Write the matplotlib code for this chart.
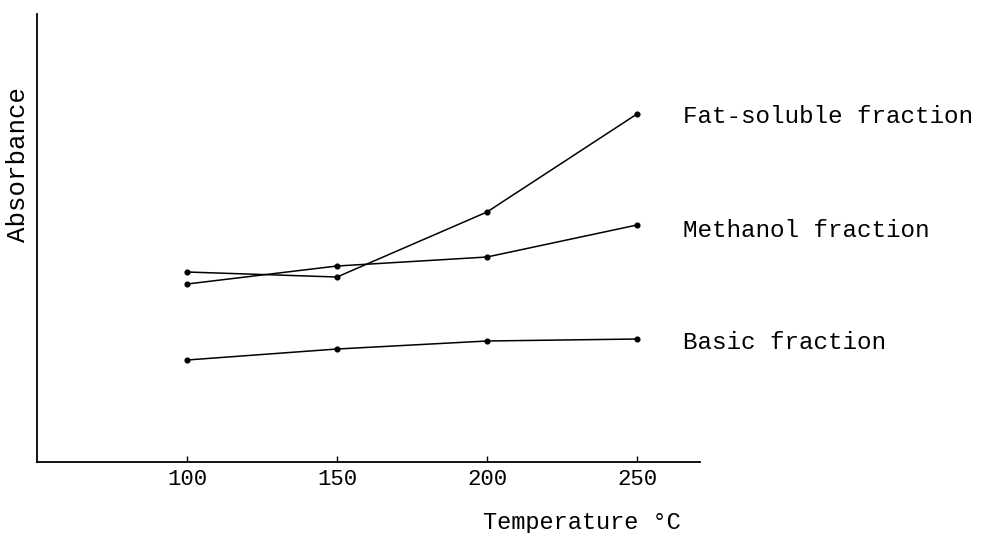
import matplotlib.pyplot as plt

# Temperature (deg C) and absorbance readings (arbitrary units)
temperature = [100, 150, 200, 250]
fat_soluble = [1.90, 1.85, 2.50, 3.48]
methanol    = [1.78, 1.96, 2.05, 2.37]
basic       = [1.02, 1.13, 1.21, 1.23]

series_names = ['Fat-soluble fraction', 'Methanol fraction', 'Basic fraction']
label_y      = [3.46, 2.32, 1.20]

FONT = 'Liberation Mono'

fig = plt.figure(figsize=(9.85, 5.33), dpi=100)
ax = fig.add_axes([0.0376, 0.1332, 0.673, 0.8405])

for vals in (fat_soluble, methanol, basic):
    ax.plot(temperature, vals, color='black', lw=1.1, marker='o', ms=3.4,
            clip_on=False)

# series names written to the right of the line ends
for name, y in zip(series_names, label_y):
    ax.text(265.5, y, name, fontfamily=FONT, fontsize=17.5, ha='left',
            va='center', clip_on=False)

ax.set_xlim(50, 271)
ax.set_ylim(0, 4.48)
ax.set_xticks(temperature)
ax.set_xticklabels([str(t) for t in temperature], fontfamily=FONT, fontsize=16)
ax.set_yticks([])
ax.tick_params(axis='x', direction='in', length=4, width=1, pad=5)

ax.spines['top'].set_visible(False)
ax.spines['right'].set_visible(False)
for s in ('left', 'bottom'):
    ax.spines[s].set_linewidth(1.3)

ax.text(-0.0287, 0.663, 'Absorbance', transform=ax.transAxes, rotation=90,
        fontfamily=FONT, fontsize=18.5, ha='center', va='center')
ax.text(198.7, -0.60, 'Temperature \u00b0C', fontfamily=FONT, fontsize=17,
        ha='left', va='center', clip_on=False)

fig.savefig('out.png', dpi=100, facecolor='white')
